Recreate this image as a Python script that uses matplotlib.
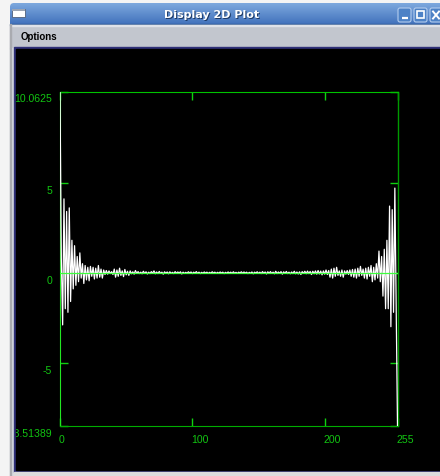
import numpy as np
import matplotlib
matplotlib.use("Agg")
import matplotlib.pyplot as plt
from matplotlib.patches import Rectangle, FancyBboxPatch
from matplotlib.transforms import (blended_transform_factory, ScaledTranslation,
                                   Bbox, TransformedBbox)

W, H = 440, 477

# 256-sample signal shown in the 2D plot window
samples = np.array([
    10.0625, 0.8, -2.9, 4.1, -2.0, 3.4, -2.2, 3.6, -1.6, 1.8, -0.9, 1.5, -0.7, 0.9, -0.5, 1.1,
    -0.3, 0.5, -0.6, 0.4, -0.4, 0.3, -0.45, 0.35, -0.2, 0.3, -0.35, 0.25, -0.3, 0.4, -0.25, 0.2,
    -0.3, 0.15, -0.1, 0.12, -0.08, 0.1, -0.05, 0.06, -0.1, 0.2, -0.25, 0.15, -0.2, 0.25, -0.15, 0.1,
    -0.22, 0.18, -0.12, 0.08, -0.15, 0.1, -0.06, 0.05, -0.08, 0.12, -0.04, 0.06, -0.05, 0.03, -0.06, 0.08,
    -0.04, 0.05, -0.07, 0.03, -0.05, 0.06, -0.03, 0.1, -0.06, 0.04, -0.05, 0.07, -0.04, 0.03, -0.08, 0.05,
    -0.03, 0.04, -0.06, 0.05, -0.04, 0.02, -0.05, 0.06, -0.03, 0.04, -0.02, 0.05, -0.07, 0.03, -0.04, 0.02,
    -0.03, 0.05, -0.02, 0.04, -0.05, 0.03, -0.02, 0.06, -0.04, 0.03, -0.05, 0.02, -0.03, 0.04, -0.02, 0.03,
    -0.04, 0.02, -0.03, 0.05, -0.02, 0.03, -0.04, 0.02, -0.03, 0.04, -0.02, 0.03, -0.05, 0.02, -0.03, 0.04,
    -0.02, 0.03, -0.04, 0.05, -0.03, 0.02, -0.04, 0.03, -0.02, 0.05, -0.03, 0.04, -0.02, 0.03, -0.05, 0.02,
    -0.03, 0.04, -0.06, 0.03, -0.02, 0.05, -0.04, 0.03, -0.05, 0.06, -0.03, 0.04, -0.07, 0.05, -0.03, 0.06,
    -0.04, 0.03, -0.06, 0.08, -0.05, 0.04, -0.03, 0.06, -0.08, 0.05, -0.04, 0.07, -0.05, 0.03, -0.06, 0.04,
    -0.05, 0.08, -0.06, 0.04, -0.07, 0.05, -0.1, 0.06, -0.04, 0.08, -0.06, 0.09, -0.05, 0.07, -0.1, 0.08,
    -0.06, 0.1, -0.08, 0.12, -0.07, 0.09, -0.12, 0.1, -0.08, 0.15, -0.1, 0.12, -0.25, 0.2, -0.3, 0.25,
    -0.2, 0.3, -0.15, 0.1, -0.2, 0.15, -0.25, 0.1, -0.08, 0.12, -0.1, 0.15, -0.2, 0.18, -0.25, 0.2,
    -0.3, 0.25, -0.2, 0.35, -0.15, 0.2, -0.3, 0.25, -0.35, 0.3, -0.2, 0.4, -0.5, 0.3, -0.4, 0.5,
    -0.3, 1.2, -0.5, 0.9, -1.3, 1.3, -2.0, 1.8, -2.0, 3.7, -3.0, 3.5, -2.2, 4.7, -2.0, -8.51389,
])
sample_index = np.arange(len(samples))
x_ticks = [0, 100, 200, 255]
y_ticks = [samples.min(), -5, 0, 5, samples.max()]

window_title = "Display 2D Plot"
menu_label = "Options"

GREEN_TEXT = "#12c412"
GREEN_TICK = "#10d010"

fig = plt.figure(figsize=(W / 100, H / 100), dpi=100)
fig.patch.set_facecolor("#f4f4f4")

# ---- window chrome, drawn in pixel coordinates (y grows downward) ----
bg = fig.add_axes([0, 0, 1, 1])
bg.axis("off")

title_grad = np.linspace([0.49, 0.66, 0.87], [0.26, 0.45, 0.74], 40).reshape(40, 1, 3)
img = bg.imshow(title_grad, extent=(10, W, 25, 4), aspect="auto", interpolation="bilinear", zorder=1)
title_clip = FancyBboxPatch((10, 4), W, 32, boxstyle="round,pad=0,rounding_size=4",
                            transform=bg.transData, facecolor="none", edgecolor="none")
bg.add_patch(title_clip)
img.set_clip_path(title_clip)
bg.add_patch(Rectangle((10, 24.5), W - 10, 1.2, color="#2b5894", zorder=2))

bg.add_patch(Rectangle((10, 25.5), W - 10, 24, color="#c2c6ce", zorder=2))
bg.add_patch(Rectangle((10, 25.5), W - 10, 1, color="#dfe2e8", zorder=2))
bg.add_patch(Rectangle((10, 49), 4, H - 49, color="#d8dbe2", zorder=2))
bg.add_patch(Rectangle((9.5, 25), 1.2, H - 25, color="#a9abb0", zorder=2))
bg.add_patch(Rectangle((14, 48), W - 14, 425, color="#2f3078", zorder=2))
black_area = Rectangle((16, 50), W - 16, 421, color="black", zorder=3)
bg.add_patch(black_area)
bg.add_patch(Rectangle((14, 473), W - 14, 4, color="#dcdcdc", zorder=2))

# window icon
bg.add_patch(Rectangle((12, 10), 13, 8, facecolor="white", edgecolor="#50607a", lw=0.6, zorder=4))
bg.add_patch(Rectangle((12, 10), 13, 2, facecolor="#9aa4b4", edgecolor="none", zorder=4))

# title buttons
for bx in (398, 414, 430):
    bg.add_patch(FancyBboxPatch((bx, 9), 13, 14, boxstyle="round,pad=0,rounding_size=2",
                                facecolor="#4d82c6", edgecolor="#b4cdee", lw=0.8, zorder=4))
bg.plot([401.5, 407.5], [19, 19], color="white", lw=1.6, zorder=5, solid_capstyle="butt")
bg.add_patch(Rectangle((417, 12), 7, 7, facecolor="none", edgecolor="white", lw=1.2, zorder=5))
bg.plot([433, 439], [12.5, 19.5], color="white", lw=1.4, zorder=5)
bg.plot([433, 439], [19.5, 12.5], color="white", lw=1.4, zorder=5)

bg.text(213, 16, window_title, ha="center", va="center", color="#1d3a66",
        fontsize=8, fontweight="bold", family="DejaVu Sans", zorder=5)
bg.text(212, 15, window_title, ha="center", va="center", color="white",
        fontsize=8, fontweight="bold", family="DejaVu Sans", zorder=6)
bg.text(20.5, 37.5, menu_label, ha="left", va="center", color="black",
        fontsize=7, fontweight="bold", family="Liberation Sans", zorder=5)

bg.set_xlim(0, W)
bg.set_ylim(H, 0)

# ---- plot area ----
ax = fig.add_axes([60 / W, (H - 427) / H, 337.5 / W, 334.5 / H])
ax.set_facecolor("none")
ax.set_zorder(2)

ax.plot(sample_index, samples, color="white", lw=0.9, zorder=3)
ax.axhline(0, color="#3cff3c", lw=0.9, zorder=4)

ax.set_xlim(sample_index[0], sample_index[-1])
ax.set_ylim(samples.min(), samples.max())

spine_colors = {"left": "#22e622", "bottom": "#00ac00", "top": "#00c400", "right": "#009a00"}
for side, c in spine_colors.items():
    ax.spines[side].set_color(c)
    ax.spines[side].set_linewidth(1.0 if side == "right" else 0.8)
    ax.spines[side].set_zorder(2)

ax.set_xticks(x_ticks)
ax.set_yticks(y_ticks)
ax.tick_params(direction="in", length=5.8, width=1.0, color=GREEN_TICK,
               top=True, right=True, labelleft=False, labelbottom=False)

clip_box = TransformedBbox(Bbox.from_extents(16 / W, (H - 471) / H, 1, (H - 50) / H), fig.transFigure)

ylab_tr = blended_transform_factory(ax.transAxes, ax.transData) + \
    ScaledTranslation(-8 / 100, -2 / 100, fig.dpi_scale_trans)
for t in y_ticks:
    lab = ax.text(0, t, f"{t:g}", transform=ylab_tr, ha="right", va="top",
                  color=GREEN_TEXT, fontsize=7.6, family="Liberation Sans")
    lab.set_clip_path(None)
    lab.set_clip_box(clip_box)
    lab.set_clip_on(True)

xlab_tr = blended_transform_factory(ax.transData, ax.transAxes) + \
    ScaledTranslation(-1 / 100, -8.5 / 100, fig.dpi_scale_trans)
for t in x_ticks:
    ax.text(t, 0, f"{t:g}", transform=xlab_tr, ha="left", va="top",
            color=GREEN_TEXT, fontsize=7.6, family="Liberation Sans")

fig.savefig("out.png", dpi=100, facecolor=fig.get_facecolor())
